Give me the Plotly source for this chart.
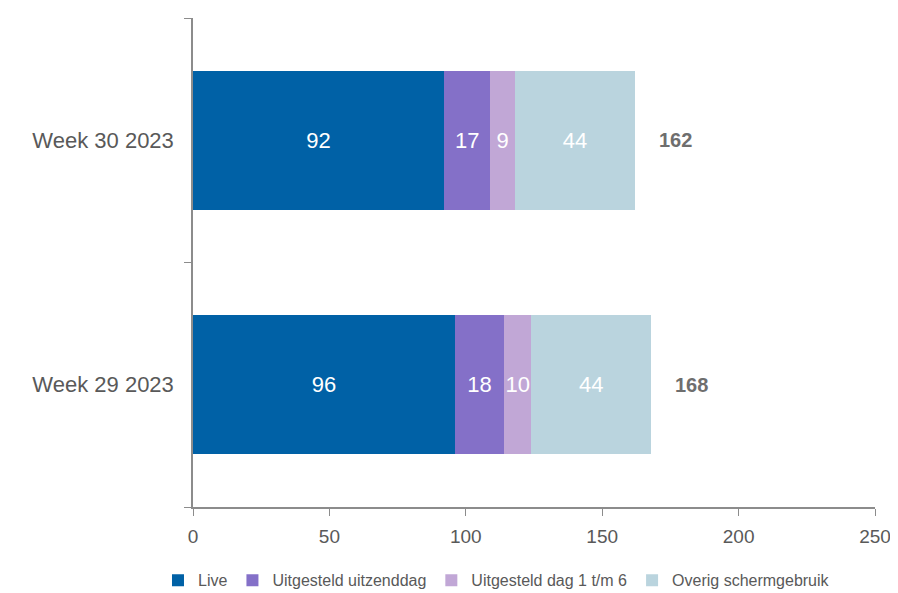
import plotly.graph_objects as go

categories = ["Week 29 2023", "Week 30 2023"]
series_names = ["Live", "Uitgesteld uitzenddag", "Uitgesteld dag 1 t/m 6", "Overig schermgebruik"]
live = [96, 92]
uitgesteld_dag = [18, 17]
uitgesteld_1_6 = [10, 9]
overig = [44, 44]
totals = [168, 162]
x_ticks = [0, 50, 100, 150, 200, 250]

colors = ["#0061A6", "#8470C8", "#C1A7D6", "#BAD4DE"]
values = [live, uitgesteld_dag, uitgesteld_1_6, overig]
FONT = "Liberation Sans, Arial, sans-serif"

fig = go.Figure()
for name, vals, col in zip(series_names, values, colors):
    fig.add_trace(go.Bar(
        y=categories, x=vals, name=name, orientation="h",
        marker=dict(color=col, line=dict(width=0)),
        text=[str(v) for v in vals], textposition="inside",
        insidetextanchor="middle", constraintext="none", textangle=0,
        insidetextfont=dict(color="white", size=22, family=FONT),
        hoverinfo="skip",
    ))

for cat, tot in zip(categories, totals):
    fig.add_annotation(x=tot, y=cat, text=str(tot), showarrow=False,
                       xanchor="left", xshift=22,
                       font=dict(size=20, color="#6E6E6E", family=FONT, weight="bold"))

fig.update_layout(
    barmode="stack",
    bargap=0.43,
    width=886, height=585,
    margin=dict(l=185, r=19, t=10, b=86, autoexpand=False),
    paper_bgcolor="white", plot_bgcolor="white",
    font=dict(family=FONT, color="#595959"),
    uniformtext=dict(minsize=20, mode="show"),
    legend=dict(orientation="h", x=0.445, xanchor="center", y=-0.15, yanchor="middle",
                font=dict(size=16, color="#595959"), itemwidth=30, traceorder="normal",
                tracegroupgap=0),
    showlegend=True,
)
fig.update_xaxes(range=[0, 250], tickvals=x_ticks, showgrid=False, zeroline=False,
                 showline=True, linecolor="#8C8C8C", linewidth=1.5,
                 ticks="outside", ticklen=7, tickcolor="#8C8C8C",
                 ticklabelstandoff=4,
                 tickfont=dict(size=19, color="#595959"))
fig.update_yaxes(showgrid=False, showline=True, linecolor="#8C8C8C", linewidth=1.5,
                 ticks="outside", ticklen=7, tickcolor="#8C8C8C", tickson="boundaries",
                 ticklabelstandoff=13,
                 tickfont=dict(size=22, color="#595959"))

fig.write_html("out.html")
